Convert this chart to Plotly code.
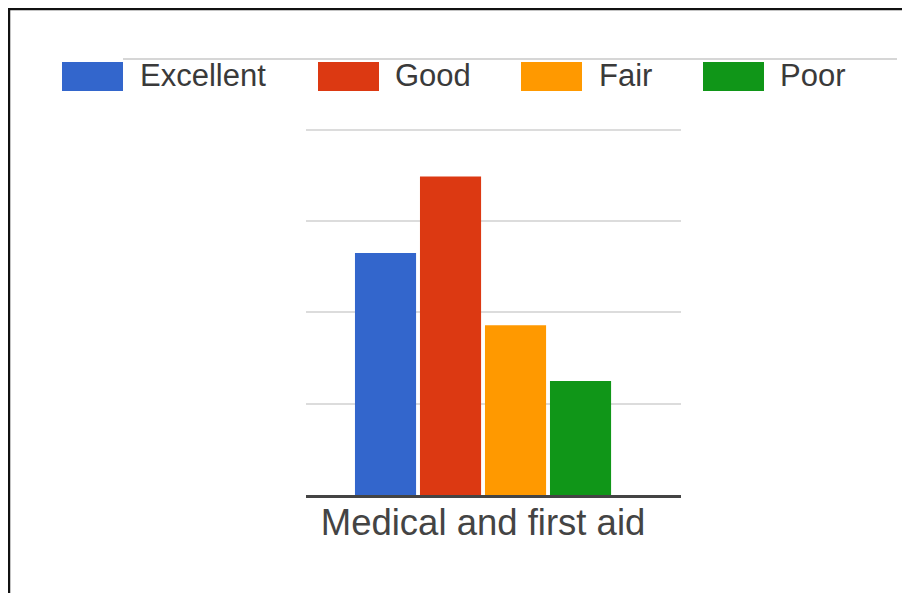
import plotly.graph_objects as go

categories = ["Medical and first aid"]
series_names = ["Excellent", "Good", "Fair", "Poor"]
excellent = [2.65]
good = [3.49]
fair = [1.86]
poor = [1.25]
series_values = [excellent, good, fair, poor]
colors = ["#3366CC", "#DC3912", "#FF9900", "#109618"]

OFF = 8  # page body margin
W, H = 910 - OFF, 593 - OFF
L, R, T, B = 306 - OFF, 229, 128 - OFF, 98
PW, PH = W - L - R, H - T - B

def px(x):
    return (x - OFF - L) / PW

def py(y):
    return 1 - (y - OFF - T) / PH

fig = go.Figure()
for name, vals, col in zip(series_names, series_values, colors):
    fig.add_trace(go.Bar(x=categories, y=vals, name=name,
                         marker=dict(color=col, line=dict(width=0)),
                         showlegend=False))

shapes = []
annotations = []
# frame (top and left)
shapes.append(dict(type="line", xref="paper", yref="paper", x0=px(8), x1=px(915),
                   y0=py(9), y1=py(9), line=dict(color="#111", width=2.5)))
shapes.append(dict(type="line", xref="paper", yref="paper", x0=px(9), x1=px(9),
                   y0=py(8), y1=py(600), line=dict(color="#111", width=2.5)))
# faint legend rule
shapes.append(dict(type="line", xref="paper", yref="paper", x0=px(123), x1=px(897),
                   y0=py(59), y1=py(59), line=dict(color="#d6d6d6", width=2), layer="below"))

sw_x = [62, 318, 521, 703]
tx_x = [138, 393, 597, 778]
for name, col, sx, tx in zip(series_names, colors, sw_x, tx_x):
    shapes.append(dict(type="rect", xref="paper", yref="paper", x0=px(sx), x1=px(sx + 61),
                       y0=py(91), y1=py(62), fillcolor=col, line=dict(width=0)))
    annotations.append(dict(xref="paper", yref="paper", x=px(tx), y=py(76), text=name,
                            showarrow=False, xanchor="left", yanchor="middle",
                            font=dict(family="Liberation Sans, Arial", size=31, color="#3a3a3a")))

fig.update_layout(
    width=W, height=H,
    margin=dict(l=L, r=R, t=T, b=B, pad=0),
    paper_bgcolor="white", plot_bgcolor="white",
    barmode="group", bargap=0.3, bargroupgap=0.06,
    shapes=shapes, annotations=annotations,
    xaxis=dict(showline=True, linecolor="#444", linewidth=3, ticks="",
               range=[-0.4766, 0.533],
               tickfont=dict(family="Liberation Sans, Arial", size=36.5, color="#444"),
               ticklabelstandoff=-7, showgrid=False),
    yaxis=dict(range=[0, 4.02], tickvals=[1, 2, 3, 4], showticklabels=False, showgrid=True,
               gridcolor="#dcdcdc", gridwidth=2, zeroline=False, ticks=""),
)

fig.write_html("out.html")
